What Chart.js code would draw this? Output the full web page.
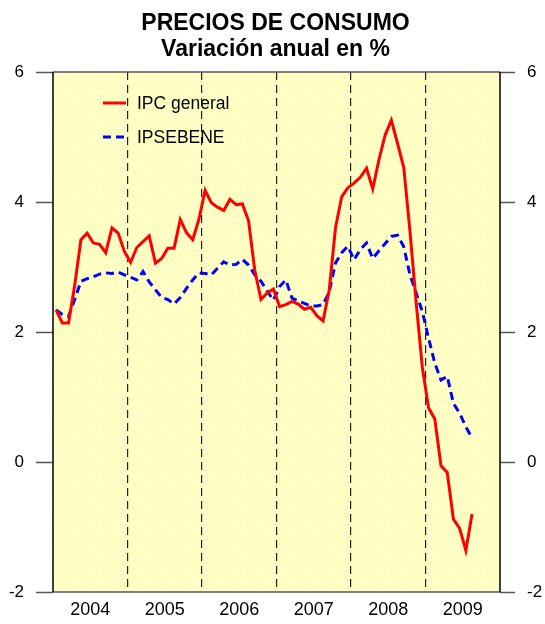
<!DOCTYPE html>
<html><head><meta charset="utf-8">
<script src="https://cdn.jsdelivr.net/npm/chart.js@4"></script>
<style>html,body{margin:0;padding:0;background:#fff;}canvas{display:block;}</style>
</head><body>
<canvas id="c" width="545" height="624"></canvas>
<script>
const years = ['2004','2005','2006','2007','2008','2009'];
const titleLines = ['PRECIOS DE CONSUMO', 'Variación anual en %'];
const seriesNames = ['IPC general', 'IPSEBENE'];
const yTicks = [-2, 0, 2, 4, 6];
// monthly values, Jan 2004 .. Aug 2009
const ipcGeneral = [
  2.34, 2.14, 2.14, 2.72, 3.42, 3.52, 3.37, 3.35, 3.22, 3.60, 3.52, 3.24,
  3.07, 3.30, 3.39, 3.48, 3.06, 3.13, 3.29, 3.29, 3.73, 3.53, 3.42, 3.73,
  4.18, 3.99, 3.92, 3.87, 4.04, 3.96, 3.97, 3.71, 2.95, 2.50, 2.60, 2.66,
  2.39, 2.42, 2.47, 2.43, 2.35, 2.38, 2.25, 2.17, 2.65, 3.60, 4.08, 4.22,
  4.29, 4.38, 4.52, 4.20, 4.65, 5.03, 5.26, 4.90, 4.53, 3.55, 2.45, 1.45,
  0.83, 0.66, -0.06, -0.16, -0.88, -1.02, -1.36, -0.80
];
const ipsebene = [
  2.34, 2.27, 2.24, 2.50, 2.78, 2.82, 2.85, 2.89, 2.91, 2.90, 2.92, 2.88,
  2.84, 2.80, 2.93, 2.77, 2.65, 2.53, 2.50, 2.43, 2.53, 2.67, 2.80, 2.91,
  2.90, 2.88, 2.98, 3.08, 3.03, 3.04, 3.12, 3.03, 2.88, 2.78, 2.63, 2.49,
  2.70, 2.80, 2.52, 2.48, 2.44, 2.40, 2.40, 2.42, 2.62, 3.06, 3.22, 3.32,
  3.11, 3.27, 3.37, 3.13, 3.25, 3.36, 3.47, 3.49, 3.31, 2.88, 2.60, 2.31,
  1.90, 1.52, 1.26, 1.32, 0.90, 0.75, 0.54, 0.37
];
const monthsPerYear = 12;
const totalMonths = years.length * monthsPerYear;

const toPoints = arr => arr.map((v, i) => ({x: i + 0.5, y: v}));

function makePattern(ctx) {
  const c = document.createElement('canvas');
  c.width = 6; c.height = 6;
  const g = c.getContext('2d');
  g.fillStyle = '#FFFFB4';
  g.fillRect(0, 0, 6, 6);
  g.fillStyle = '#FFFFEE';
  g.beginPath(); g.arc(1.5, 1.5, 1.3, 0, 2 * Math.PI); g.fill();
  g.beginPath(); g.arc(4.5, 4.5, 1.3, 0, 2 * Math.PI); g.fill();
  return ctx.createPattern(c, 'repeat');
}

const decor = {
  id: 'decor',
  beforeDraw(chart) {
    const {ctx, chartArea: a} = chart;
    ctx.save();
    ctx.fillStyle = makePattern(ctx);
    ctx.fillRect(a.left, a.top, a.right - a.left, a.bottom - a.top);
    ctx.restore();
  },
  beforeDatasetsDraw(chart) {
    const {ctx, chartArea: a} = chart;
    ctx.save();
    ctx.lineWidth = 1.5;
    ctx.strokeStyle = '#555';
    ctx.beginPath();
    ctx.moveTo(a.left, a.top); ctx.lineTo(a.right, a.top);
    ctx.moveTo(a.left, a.bottom); ctx.lineTo(a.right, a.bottom);
    ctx.stroke();
    ctx.strokeStyle = '#000';
    ctx.beginPath();
    ctx.moveTo(a.left, a.top); ctx.lineTo(a.left, a.bottom);
    ctx.moveTo(a.right, a.top); ctx.lineTo(a.right, a.bottom);
    ctx.stroke();
    ctx.restore();
  },
  afterDraw(chart) {
    const {ctx, chartArea: a} = chart;
    ctx.save();
    // title
    ctx.fillStyle = '#000';
    ctx.font = 'bold 23px "Liberation Sans", Arial, sans-serif';
    ctx.textAlign = 'center';
    ctx.textBaseline = 'middle';
    const cx = (a.left + a.right) / 2 - 1;
    ctx.fillText(titleLines[0], cx, 24);
    ctx.fillText(titleLines[1], cx, 50);
    // legend
    ctx.font = '17.5px "Liberation Sans", Arial, sans-serif';
    ctx.textAlign = 'left';
    chart.data.datasets.forEach((ds, i) => {
      const y = a.top + 31 + i * 34;
      ctx.strokeStyle = ds.borderColor;
      ctx.lineWidth = ds.borderWidth;
      ctx.setLineDash(ds.borderDash || []);
      ctx.beginPath();
      ctx.moveTo(a.left + 50, y); ctx.lineTo(a.left + 73, y);
      ctx.stroke();
      ctx.setLineDash([]);
      ctx.fillStyle = '#000';
      ctx.fillText(ds.label, a.left + 84, y + 1);
    });
    ctx.restore();
  }
};

const yAxis = (pos, tickLen, width) => ({
  type: 'linear',
  position: pos,
  min: yTicks[0],
  max: yTicks[yTicks.length - 1],
  afterBuildTicks: s => { s.ticks = yTicks.map(v => ({value: v})); },
  afterFit: s => { s.width = width; },
  ticks: {
    color: '#000',
    font: {family: '"Liberation Sans", Arial, sans-serif', size: 17},
    padding: 12
  },
  grid: {
    drawOnChartArea: false,
    drawTicks: true,
    tickLength: tickLen,
    tickColor: '#555',
    tickWidth: 1.5,
    color: '#555'
  },
  border: {display: false}
});

new Chart(document.getElementById('c'), {
  type: 'line',
  data: {
    datasets: [
      {
        label: seriesNames[0],
        data: toPoints(ipcGeneral),
        borderColor: '#FF0000',
        borderWidth: 3,
        pointRadius: 0,
        tension: 0,
        yAxisID: 'y'
      },
      {
        label: seriesNames[1],
        data: toPoints(ipsebene),
        borderColor: '#0000FF',
        borderWidth: 3,
        borderDash: [8, 5],
        pointRadius: 0,
        tension: 0,
        yAxisID: 'y'
      }
    ]
  },
  plugins: [decor],
  options: {
    responsive: false,
    animation: false,
    devicePixelRatio: 1,
    layout: {padding: {top: 72, left: 0, right: 0, bottom: 0}},
    plugins: {legend: {display: false}, title: {display: false}, tooltip: {enabled: false}},
    scales: {
      x: {
        type: 'linear',
        min: 0,
        max: totalMonths,
        afterBuildTicks: s => {
          s.ticks = Array.from({length: years.length * 2 + 1}, (_, k) => ({value: k * monthsPerYear / 2}));
        },
        afterFit: s => { s.height = 32; },
        ticks: {
          color: '#000',
          font: {family: '"Liberation Sans", Arial, sans-serif', size: 18},
          padding: 7,
          maxRotation: 0,
          autoSkip: false,
          callback: v => (v % monthsPerYear === monthsPerYear / 2) ? years[(v - monthsPerYear / 2) / monthsPerYear] : ''
        },
        grid: {
          drawTicks: false,
          lineWidth: 1.2,
          color: c => {
            const v = c.tick ? c.tick.value : -1;
            return (v > 0 && v < totalMonths && v % monthsPerYear === 0) ? '#222' : 'rgba(0,0,0,0)';
          }
        },
        border: {display: false, dash: [8, 5]}
      },
      y: yAxis('left', 17, 53),
      y2: yAxis('right', 15, 45)
    }
  }
});
</script>
</body></html>
